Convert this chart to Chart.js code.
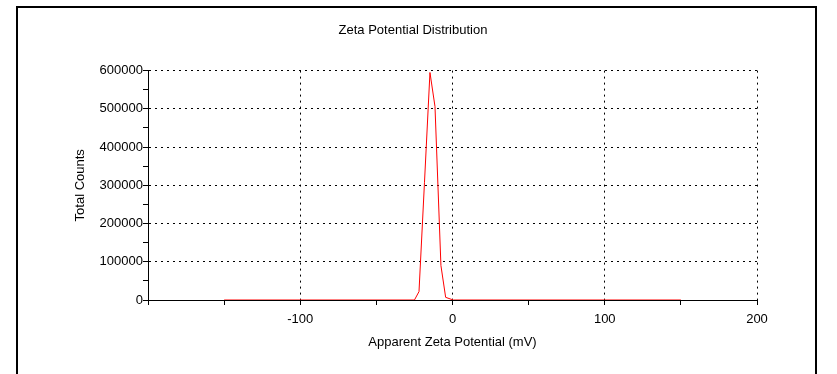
<!DOCTYPE html>
<html>
<head>
<meta charset="utf-8">
<script src="https://cdn.jsdelivr.net/npm/chart.js@4"></script>
<style>
    body { margin: 0; background: #fff; }
    #wrap { position: relative; width: 837px; height: 374px; overflow: hidden; }
    #frame { position: absolute; left: 16px; top: 6px; width: 797px; height: 400px; border: 2px solid #000; }
    #zetaChart { position: absolute; left: 0; top: 0; }
</style>
</head>
<body>
<div id="wrap">
    <div id="frame"></div>
    <canvas id="zetaChart" width="837" height="374"></canvas>
</div>
<script>
// Data
const zetaPotential = [-150, -25, -22, -18.4, -14.8, -11.5, -7.6, -4.5, 0.5, 150];
const totalCounts = [0, 0, 22000, 308000, 595000, 506000, 90000, 7000, 0, 0];

const X_MIN = -200, X_MAX = 200, X_STEP = 50;
const Y_MIN = 0, Y_MAX = 600000, Y_STEP = 50000;

const FONT = { family: '"Liberation Sans", Arial, sans-serif', size: 13, weight: 'normal' };
const DOTS = [2, 4];

const points = zetaPotential.map((x, i) => ({ x: x, y: totalCounts[i] }));

const ctx = document.getElementById('zetaChart').getContext('2d');

new Chart(ctx, {
    type: 'scatter',
    data: {
        datasets: [{
            data: points,
            showLine: true,
            borderColor: '#ff0000',
            borderWidth: 1,
            pointRadius: 0,
            tension: 0
        }]
    },
    options: {
        responsive: false,
        animation: false,
        layout: { padding: { left: 69, right: 80, top: 11, bottom: 20 } },
        plugins: {
            legend: { display: false },
            tooltip: { enabled: false },
            title: {
                display: true,
                text: 'Zeta Potential Distribution',
                color: '#000',
                font: FONT,
                padding: { top: 12, bottom: 32 }
            }
        },
        scales: {
            x: {
                type: 'linear',
                min: X_MIN,
                max: X_MAX,
                afterFit: s => { s.height = 54; },
                ticks: {
                    stepSize: X_STEP,
                    color: '#000',
                    font: FONT,
                    padding: 7,
                    maxRotation: 0,
                    autoSkip: false,
                    callback: v => (v % 100 === 0 && v !== X_MIN) ? String(v) : ''
                },
                grid: {
                    color: c => (c.tick && c.tick.value % 100 === 0 && c.tick.value !== X_MIN) ? '#000' : 'rgba(0,0,0,0)',
                    lineWidth: 1,
                    tickColor: '#000',
                    tickLength: 5,
                    borderDash: DOTS
                },
                border: { display: true, color: '#000', width: 1, dash: DOTS },
                title: {
                    display: true,
                    text: 'Apparent Zeta Potential (mV)',
                    color: '#000',
                    font: FONT
                }
            },
            y: {
                min: Y_MIN,
                max: Y_MAX,
                afterFit: s => { s.width = 79; },
                ticks: {
                    stepSize: Y_STEP,
                    color: '#000',
                    font: FONT,
                    padding: 0,
                    autoSkip: false,
                    callback: v => (v % 100000 === 0) ? String(v) : ''
                },
                grid: {
                    color: c => (c.tick && c.tick.value % 100000 === 0 && c.tick.value !== Y_MIN) ? '#000' : 'rgba(0,0,0,0)',
                    lineWidth: 1,
                    tickColor: '#000',
                    tickLength: 5,
                    borderDash: DOTS
                },
                border: { display: true, color: '#000', width: 1, dash: DOTS },
                title: {
                    display: true,
                    text: 'Total Counts',
                    color: '#000',
                    font: FONT
                }
            }
        }
    }
});
</script>
</body>
</html>
